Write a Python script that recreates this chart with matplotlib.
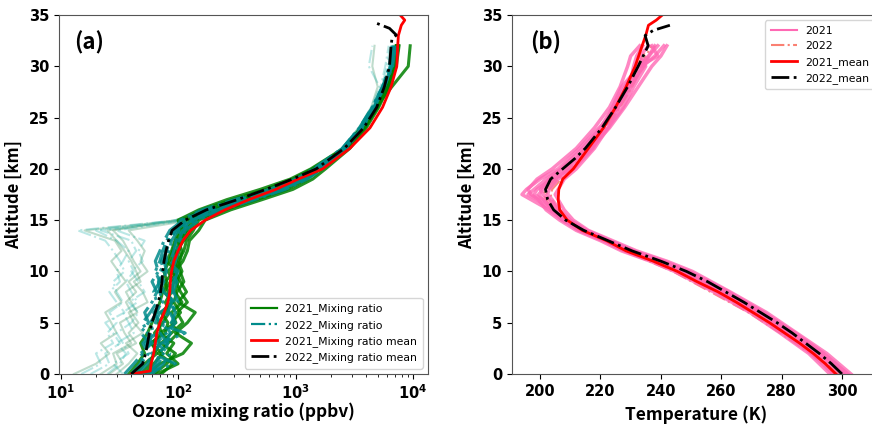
import matplotlib
matplotlib.use("Agg")
import matplotlib.pyplot as plt

# ---------------- data: ozone (panel a) ----------------
alt_o = [0, 1, 2, 3, 4, 5, 6, 7, 8, 9, 10, 11, 12, 13, 14, 15, 16, 17, 18, 19, 20, 22, 24, 26, 28, 30, 32]

oz21_profiles = [
    [62, 80, 95, 72, 88, 110, 98, 120, 105, 96, 108, 100, 112, 118, 135, 150, 230, 420, 780, 1200, 1650, 2800, 3900, 5000, 6200, 7200, 7600],
    [48, 58, 62, 70, 63, 74, 84, 78, 88, 92, 82, 97, 102, 108, 118, 125, 180, 330, 620, 1000, 1450, 2650, 3750, 4850, 6000, 7000, 7400],
    [72, 90, 68, 82, 100, 88, 105, 92, 98, 112, 104, 92, 96, 112, 128, 140, 210, 380, 700, 1100, 1550, 2700, 3800, 4900, 6100, 7100, 7500],
    [52, 62, 74, 58, 78, 82, 72, 88, 82, 78, 92, 88, 97, 102, 112, 110, 160, 290, 560, 950, 1400, 2600, 3600, 4700, 5900, 6900, 7300],
    [38, 45, 52, 48, 55, 60, 65, 70, 74, 80, 76, 84, 90, 96, 108, 100, 150, 260, 500, 900, 1350, 2550, 3650, 4800, 6600, 9100, 9450],
    [55, 70, 110, 130, 95, 120, 140, 100, 118, 105, 95, 110, 120, 125, 150, 170, 280, 520, 950, 1400, 1800, 2900, 4000, 5100, 6200, 7000, 7200],
    [44, 52, 66, 60, 72, 68, 78, 90, 76, 86, 98, 80, 88, 94, 102, 118, 200, 360, 680, 1080, 1500, 2700, 3700, 4800, 6000, 6900, 7200],
    [66, 100, 80, 92, 70, 96, 88, 108, 94, 100, 90, 104, 108, 100, 120, 135, 250, 460, 840, 1250, 1620, 2750, 3800, 4900, 6100, 7000, 7400],
]
oz21_faint = [
    [22, 30, 28, 40, 35, 32, 45, 40, 36, 48, 44, 40, 35, 30, 25, 110, 200, 400, 780, 1200, 1600, 2500, 3500, 4600, 5700, 6600, 7000],
    [30, 38, 45, 36, 50, 42, 38, 55, 50, 42, 55, 48, 52, 45, 38, 130, 230, 480, 880, 1350, 1750, 2650, 3600, 4700, 5800, 6700, 7100],
    [13, 20, 26, 22, 30, 27, 24, 33, 29, 36, 31, 27, 33, 29, 16, 105, 185, 370, 720, 1150, 1550, 2500, 3450, 4400, 5000, 4500, 4700],
    [26, 34, 30, 44, 38, 46, 40, 36, 44, 38, 48, 42, 38, 34, 28, 95, 170, 330, 650, 1080, 1480, 2550, 3550, 4600, 5600, 6400, 6800],
]
oz22_profiles = [
    [45, 55, 60, 52, 66, 70, 62, 74, 70, 68, 75, 72, 80, 85, 95, 125, 190, 380, 720, 1150, 1550, 2600, 3600, 4600, 5600, 6500, 6800],
    [55, 68, 75, 82, 70, 88, 95, 85, 90, 98, 88, 95, 100, 105, 115, 150, 240, 450, 820, 1250, 1700, 2700, 3700, 4700, 5700, 6600, 6900],
    [35, 42, 50, 58, 48, 56, 52, 60, 66, 60, 68, 64, 70, 76, 85, 110, 170, 330, 650, 1050, 1450, 2500, 3500, 4500, 5500, 6400, 6700],
    [60, 75, 85, 65, 80, 95, 85, 100, 92, 85, 95, 90, 98, 102, 110, 140, 220, 420, 780, 1200, 1600, 2650, 3650, 4650, 5700, 6700, 7100],
    [42, 50, 48, 60, 55, 50, 58, 66, 62, 70, 64, 70, 74, 80, 90, 120, 180, 350, 680, 1100, 1500, 2550, 3550, 4550, 5600, 6500, 6900],
    [50, 95, 60, 72, 115, 64, 70, 95, 75, 72, 80, 76, 84, 88, 100, 135, 205, 400, 750, 1180, 1580, 2620, 3620, 4620, 5650, 6550, 6850],
    [40, 48, 56, 50, 62, 58, 66, 72, 68, 76, 70, 80, 78, 84, 96, 105, 160, 300, 600, 1000, 1420, 2500, 3500, 4500, 5500, 6300, 6600],
    [58, 64, 70, 78, 86, 76, 82, 88, 84, 92, 100, 86, 92, 96, 105, 130, 215, 410, 760, 1180, 1600, 2650, 3650, 4650, 5650, 6600, 7000],
]
oz22_faint = [
    [15, 22, 20, 28, 25, 30, 26, 34, 30, 28, 35, 32, 28, 24, 14, 100, 170, 350, 700, 1100, 1500, 2500, 3500, 4500, 5400, 6000, 6400],
    [25, 32, 36, 30, 42, 38, 34, 45, 40, 36, 42, 38, 44, 40, 22, 115, 190, 380, 720, 1150, 1550, 2550, 3500, 4500, 5300, 5800, 6200],
    [18, 26, 24, 32, 28, 24, 35, 30, 26, 32, 30, 34, 38, 30, 20, 95, 180, 360, 700, 1120, 1520, 2500, 3450, 4400, 5200, 4200, 4500],
    [34, 28, 38, 34, 30, 40, 46, 38, 52, 46, 40, 50, 46, 52, 30, 120, 200, 390, 740, 1160, 1560, 2560, 3520, 4500, 5500, 6200, 6600],
]

alt_om21 = [0, 0.3, 1, 2, 3, 4, 5, 6, 7, 8, 9, 10, 11, 12, 13, 14, 15, 16, 17, 18, 19, 20, 22, 24, 26, 28, 30, 32, 33, 34, 34.5, 35]
oz_mean21 = [40, 58, 59, 62, 64, 66, 70, 76, 82, 85, 86, 88, 92, 100, 110, 128, 170, 250, 400, 680, 1050, 1700, 2900, 4300, 5500, 6500, 7270, 7400, 7500, 7940, 8500, 7760]
alt_om22 = [0, 1, 2, 3, 4, 5, 6, 7, 8, 9, 10, 11, 12, 13, 14, 15, 16, 17, 18, 19, 20, 22, 24, 26, 28, 30, 32, 32.6, 33.05, 33.7, 34.2]
oz_mean22 = [40, 50, 53, 55, 57, 60, 64, 68, 71, 73, 74, 76, 79, 83, 89, 115, 174, 320, 560, 940, 1500, 2600, 3800, 4900, 5700, 6300, 6500, 6600, 7200, 6300, 4880]

# ---------------- data: temperature (panel b) ----------------
alt_t = [0, 2, 4, 6, 8, 10, 11, 12, 13, 14, 15, 16, 17, 17.5, 18, 19, 20, 22, 24, 26, 28, 30, 31, 32]

t21_profiles = [
    [302, 294, 284.5, 274, 262.5, 249.5, 241, 231, 223, 215, 209, 204, 199, 196, 198, 202, 207, 214, 220, 224, 228, 232, 236, 238],
    [297, 290, 280.5, 270.5, 258.5, 245.5, 237.5, 228, 221, 213, 207.5, 203, 197, 194, 195.5, 200, 206, 213, 219.5, 226, 230, 234, 238, 241],
    [300.5, 292.5, 283, 273, 261, 248, 240, 230.5, 222.5, 214.5, 209.5, 206, 203, 201, 200, 203, 207.5, 216.5, 222.5, 227.5, 231, 235, 233, 236],
    [298, 290.5, 281.5, 271.5, 259.5, 246.5, 238.5, 229, 221.5, 213.5, 208, 205, 201, 198, 199, 204, 210, 217, 223, 228, 232.5, 237, 240, 242],
    [303, 295, 285, 275, 263, 250.5, 242, 232, 224, 216, 211, 208, 206, 205, 206, 208, 212, 218, 222.5, 226, 229.5, 231, 232, 234],
    [296, 289, 279.5, 269.5, 257.5, 244.5, 236.5, 227, 220, 212, 206.5, 202, 199.5, 197, 196, 199, 204, 212, 218, 223, 226.5, 229, 230, 233],
    [300, 292, 282.5, 272.5, 260.5, 247.5, 239.5, 230, 222, 214, 208, 204, 201, 199.5, 201, 205, 209, 215, 221, 224, 227, 233, 239, 237],
    [301.5, 293.5, 284, 274, 262, 249, 240.5, 231, 223, 215.5, 210, 206.5, 204, 202.5, 203, 206, 211, 217.5, 221, 225, 229, 234.5, 236, 239],
]
t22_profiles = [
    [299, 291, 281, 270, 258, 245, 237, 228, 221, 213, 208, 205, 203, 202, 203, 206, 209, 215, 220.5, 225, 229, 232, 234, 236],
    [297.5, 289.5, 279.5, 269, 256.5, 244, 236, 227.5, 220.5, 212.5, 207, 204, 202, 201, 202, 205, 210, 216, 221.5, 226, 230, 233.5, 235, 237],
    [301, 293, 283, 272.5, 260, 247, 239, 229, 222, 214, 209, 206, 204, 203.5, 204, 207, 211, 217, 222, 226.5, 230.5, 234, 236, 238],
]

alt_tm21 = [0, 1, 2, 3, 4, 5, 6, 7, 8, 9, 10, 11, 12, 13, 14, 15, 16, 17, 18, 19, 20, 21, 22, 24, 26, 28, 30, 32, 33, 34, 34.5, 35]
t_mean21 = [298, 294.5, 290.5, 286, 281, 276, 270.5, 265, 259, 252, 245.5, 237.5, 228.5, 222, 214, 209, 206.5, 206, 206.2, 207.5, 211, 213.5, 216, 221, 225, 228.5, 231.5, 233.8, 235, 235.9, 238.5, 240.5]
alt_tm22 = [0, 1, 2, 3, 4, 5, 6, 7, 8, 9, 10, 11, 12, 13, 14, 15, 16, 17, 18, 19, 20, 21, 22, 24, 26, 28, 30, 32, 33, 33.5, 34]
t_mean22 = [300, 296.5, 292.5, 288, 283.5, 278.5, 273, 267.5, 261.5, 255.5, 248.5, 240, 230.5, 222.5, 214.5, 208.5, 204.5, 202.5, 201.8, 203.5, 207.5, 211.5, 215, 220.5, 225, 229, 232.5, 235.8, 234.8, 237.5, 243]

# ---------------- figure ----------------
plt.rcParams['font.family'] = ['DejaVu Sans']
label_font = ['Noto Sans CJK KR', 'DejaVu Sans']

fig = plt.figure(figsize=(8.72, 4.25), dpi=100)
ax1 = fig.add_axes([59 / 872, 51 / 425, 369 / 872, 359 / 425])
ax2 = fig.add_axes([512 / 872, 51 / 425, 368 / 872, 359 / 425])

# panel (a)
for p in oz21_faint:
    ax1.plot(p, alt_o, color='seagreen', lw=1.5, alpha=0.3)
for p in oz22_faint:
    ax1.plot(p, alt_o, color='lightseagreen', lw=1.5, alpha=0.3, ls='-.')
for p in oz21_profiles:
    ax1.plot(p, alt_o, color='green', lw=2.2, alpha=0.85)
for p in oz22_profiles:
    ax1.plot(p, alt_o, color='darkcyan', lw=2.2, alpha=0.85, ls='-.')
ax1.plot([], [], color='green', lw=1.6, label='2021_Mixing ratio')
ax1.plot([], [], color='darkcyan', lw=1.6, ls='-.', label='2022_Mixing ratio')
ax1.plot(oz_mean21, alt_om21, color='red', lw=2, label='2021_Mixing ratio mean')
ax1.plot(oz_mean22, alt_om22, color='black', lw=2, ls='-.', label='2022_Mixing ratio mean')

ax1.set_xscale('log')
ax1.set_xlim(9.7, 13400)
ax1.set_ylim(0, 35)
ax1.set_xlabel('Ozone mixing ratio (ppbv)', family=label_font, fontsize=12.5, fontweight='bold', labelpad=0)
ax1.set_ylabel('Altitude [km]', family=label_font, fontsize=12, fontweight='bold')
ax1.text(0.04, 0.955, '(a)', transform=ax1.transAxes, family=label_font, fontsize=16,
         fontweight='bold', va='top')
ax1.legend(loc='lower right', fontsize=7.8, handlelength=2.4, borderpad=0.5)

# panel (b)
for p in t22_profiles:
    ax2.plot(p, alt_t, color='salmon', lw=1.5, alpha=0.9, ls='-.')
for p in t21_profiles:
    ax2.plot(p, alt_t, color='hotpink', lw=2.5, alpha=0.8)
ax2.plot([], [], color='hotpink', lw=1.5, label='2021')
ax2.plot([], [], color='salmon', lw=1.5, ls='-.', label='2022')
ax2.plot(t_mean21, alt_tm21, color='red', lw=2, label='2021_mean')
ax2.plot(t_mean22, alt_tm22, color='black', lw=2, ls='-.', label='2022_mean')

ax2.set_xlim(190.7, 312.6)
ax2.set_ylim(0, 35)
ax2.set_xticks([200, 220, 240, 260, 280, 300])
ax2.set_xlabel('Temperature (K)', family=label_font, fontsize=12.5, fontweight='bold', labelpad=5)
ax2.set_ylabel('Altitude [km]', family=label_font, fontsize=12, fontweight='bold')
ax2.text(0.05, 0.955, '(b)', transform=ax2.transAxes, family=label_font, fontsize=16,
         fontweight='bold', va='top')
ax2.legend(loc='upper right', fontsize=7.8, handlelength=2.4, borderpad=0.5)

for ax in (ax1, ax2):
    ax.set_yticks([0, 5, 10, 15, 20, 25, 30, 35])
    for lab in ax.get_xticklabels() + ax.get_yticklabels():
        lab.set_fontweight('bold')
        lab.set_fontsize(10.5)
    for s in ax.spines.values():
        s.set_color('#555555')

fig.savefig('out.png', dpi=100)
